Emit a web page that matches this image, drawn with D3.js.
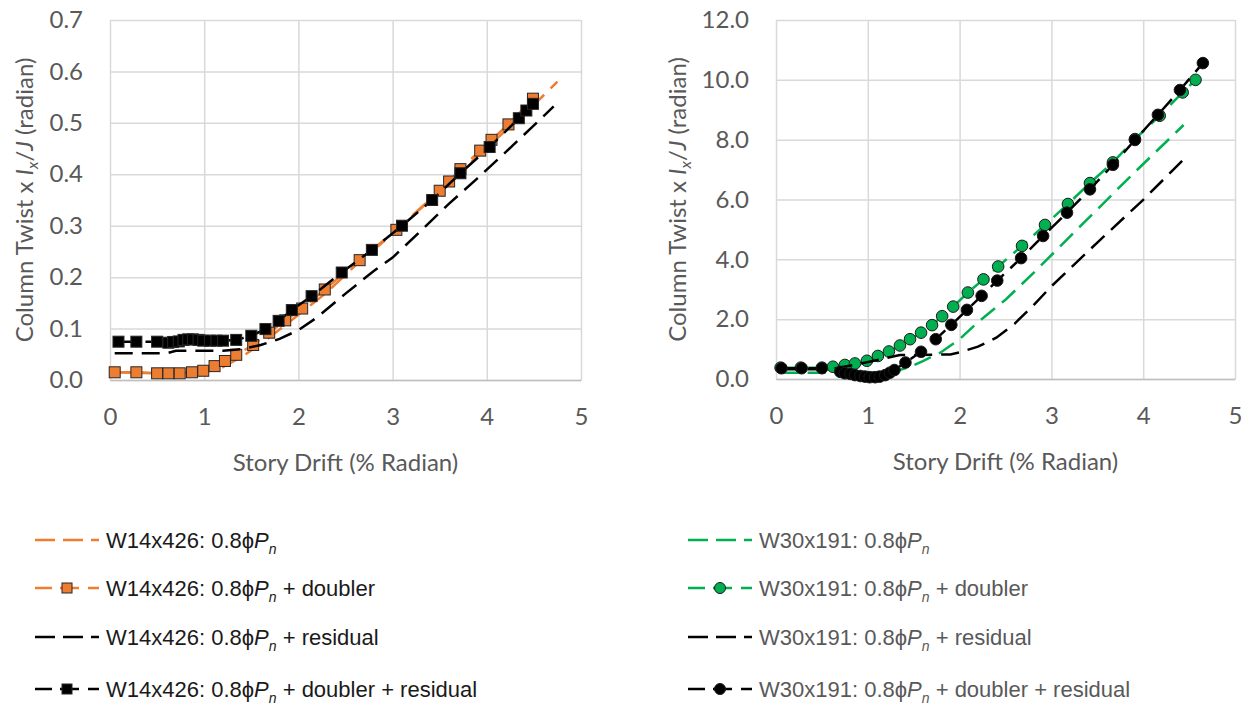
<!DOCTYPE html>
<html>
<head>
<meta charset="utf-8">
<script src="https://cdn.jsdelivr.net/npm/d3@7"></script>
<style>
  body { margin: 0; background: #fff; }
  .tick text { font-family: Lato, "Open Sans", sans-serif; font-size: 24px; fill: #595959; }
  .axis-title { font-family: Lato, "Open Sans", sans-serif; font-size: 24px; fill: #595959; }
  .legend-text { font-family: "Liberation Sans", Arial, sans-serif; font-size: 22px; }
</style>
</head>
<body>
<div class="container"></div>
<script>
// ---- left chart: W14x426 ----
var w14BaseX = [0.05, 0.5, 1.0, 1.2, 1.4, 1.6, 1.8, 2.0, 2.3, 2.6, 3.0, 3.4, 3.8, 4.2, 4.5, 4.75];
var w14BaseY = [0.015, 0.013, 0.015, 0.025, 0.045, 0.07, 0.098, 0.127, 0.17, 0.222, 0.284, 0.35, 0.418, 0.485, 0.535, 0.58];

var w14DoublerX = [0.05, 0.28, 0.50, 0.62, 0.74, 0.87, 0.99, 1.11, 1.22, 1.34, 1.52, 1.69, 1.86, 2.04, 2.28, 2.65, 3.04, 3.50, 3.60, 3.72, 3.93, 4.05, 4.23, 4.49];
var w14DoublerY = [0.015, 0.015, 0.013, 0.013, 0.013, 0.015, 0.018, 0.027, 0.037, 0.049, 0.068, 0.092, 0.116, 0.139, 0.176, 0.233, 0.292, 0.368, 0.386, 0.41, 0.446, 0.467, 0.497, 0.547];

var w14ResidualX = [0.05, 0.6, 0.7, 1.2, 1.4, 1.6, 1.8, 2.0, 2.2, 2.5, 2.8, 3.0, 3.3, 3.6, 3.9, 4.2, 4.5, 4.71];
var w14ResidualY = [0.052, 0.052, 0.057, 0.057, 0.06, 0.068, 0.08, 0.097, 0.122, 0.168, 0.212, 0.238, 0.29, 0.343, 0.392, 0.443, 0.495, 0.532];

var w14BothX = [0.09, 0.28, 0.50, 0.62, 0.67, 0.73, 0.78, 0.83, 0.88, 0.94, 0.99, 1.06, 1.13, 1.20, 1.34, 1.50, 1.65, 1.79, 1.93, 2.14, 2.46, 2.78, 3.10, 3.42, 3.72, 4.03, 4.34, 4.42, 4.49];
var w14BothY = [0.0745, 0.0745, 0.0745, 0.0725, 0.074, 0.075, 0.078, 0.079, 0.079, 0.078, 0.0765, 0.0765, 0.0765, 0.0765, 0.078, 0.086, 0.099, 0.115, 0.136, 0.163, 0.209, 0.253, 0.30, 0.35, 0.402, 0.453, 0.509, 0.524, 0.537];

// ---- right chart: W30x191 ----
var w30BaseX = [0.05, 1.0, 1.3, 1.46, 1.6, 1.79, 2.0, 2.2, 2.5, 2.8, 3.31, 3.86, 4.44];
var w30BaseY = [0.21, 0.21, 0.26, 0.41, 0.6, 0.88, 1.33, 1.9, 2.65, 3.53, 5.09, 6.77, 8.49];

var w30DoublerX = [0.05, 0.27, 0.5, 0.62, 0.75, 0.86, 0.99, 1.11, 1.23, 1.35, 1.46, 1.58, 1.70, 1.81, 1.93, 2.09, 2.26, 2.42, 2.68, 2.93, 3.18, 3.42, 3.67, 3.91, 4.18, 4.43, 4.57];
var w30DoublerY = [0.38, 0.38, 0.38, 0.41, 0.47, 0.52, 0.61, 0.77, 0.92, 1.12, 1.33, 1.55, 1.80, 2.1, 2.42, 2.89, 3.33, 3.76, 4.45, 5.15, 5.85, 6.55, 7.24, 8.02, 8.80, 9.58, 10.0];

var w30ResidualX = [0.05, 0.6, 0.9, 1.35, 1.9, 2.0, 2.2, 2.4, 2.6, 2.8, 3.0, 3.5, 4.0, 4.47];
var w30ResidualY = [0.33, 0.33, 0.5, 0.80, 0.82, 0.89, 1.08, 1.38, 1.85, 2.45, 3.1, 4.56, 5.99, 7.43];

var w30BothX = [0.06, 0.28, 0.50, 0.70, 0.75, 0.81, 0.86, 0.92, 0.97, 1.02, 1.08, 1.13, 1.19, 1.24, 1.29, 1.41, 1.58, 1.74, 1.91, 2.08, 2.24, 2.41, 2.67, 2.91, 3.17, 3.42, 3.67, 3.91, 4.16, 4.40, 4.65];
var w30BothY = [0.36, 0.36, 0.36, 0.24, 0.19, 0.17, 0.13, 0.10, 0.08, 0.06, 0.06, 0.08, 0.13, 0.21, 0.30, 0.55, 0.91, 1.33, 1.81, 2.31, 2.78, 3.29, 4.04, 4.78, 5.56, 6.34, 7.16, 7.99, 8.83, 9.66, 10.56];

var xTicks = [0, 1, 2, 3, 4, 5];
var leftYTicks = [0, 0.1, 0.2, 0.3, 0.4, 0.5, 0.6, 0.7];
var rightYTicks = [0, 2, 4, 6, 8, 10, 12];

var orange = "#ED7D31", green = "#00B050", black = "#000";
var dash = "18,9";

function zip(xs, ys) { return xs.map(function(v, i) { return {x: v, y: ys[i]}; }); }

var svg = d3.select(".container").append("svg")
  .attr("width", 1248).attr("height", 706);

function buildChart(opt) {
  var x = d3.scaleLinear().domain([0, 5]).range([opt.left, opt.right]);
  var y = d3.scaleLinear().domain([0, opt.ymax]).range([opt.bottom, opt.top]);
  var g = svg.append("g");

  // gridlines
  g.append("g")
    .attr("transform", "translate(0," + opt.bottom + ")")
    .call(d3.axisBottom(x).tickValues(xTicks).tickSize(-(opt.bottom - opt.top)).tickFormat(""))
    .call(function(s) { s.select(".domain").remove(); s.selectAll("line").attr("stroke", "#d9d9d9").attr("stroke-width", 1.5); });
  g.append("g")
    .attr("transform", "translate(" + opt.left + ",0)")
    .call(d3.axisLeft(y).tickValues(opt.yTicks).tickSize(-(opt.right - opt.left)).tickFormat(""))
    .call(function(s) { s.select(".domain").remove(); s.selectAll("line").attr("stroke", "#d9d9d9").attr("stroke-width", 1.5); });

  // axes with labels
  g.append("g")
    .attr("transform", "translate(0," + opt.bottom + ")")
    .call(d3.axisBottom(x).tickValues(xTicks).tickSize(0).tickPadding(28).tickFormat(d3.format("d")))
    .call(function(s) { s.select(".domain").attr("stroke", "#bfbfbf").attr("stroke-width", 1.5); });
  g.append("g")
    .attr("transform", "translate(" + opt.left + ",0)")
    .call(d3.axisLeft(y).tickValues(opt.yTicks).tickSize(0).tickPadding(27).tickFormat(d3.format(".1f")))
    .call(function(s) { s.select(".domain").remove(); });

  g.append("text")
    .attr("class", "axis-title")
    .attr("text-anchor", "middle")
    .attr("x", (opt.left + opt.right) / 2)
    .attr("y", opt.bottom + 91)
    .text("Story Drift (% Radian)");

  var yt = g.append("text")
    .attr("class", "axis-title")
    .attr("text-anchor", "middle")
    .attr("transform", "translate(" + opt.ytitleX + "," + (opt.top + opt.bottom) / 2 + ") rotate(-90)");
  yt.append("tspan").text("Column Twist x ");
  yt.append("tspan").style("font-style", "italic").text("I");
  yt.append("tspan").style("font-style", "italic").style("font-size", "16px").attr("dy", 5).text("x");
  yt.append("tspan").attr("dy", -5).text("/");
  yt.append("tspan").style("font-style", "italic").text("J");
  yt.append("tspan").text(" (radian)");

  var line = d3.line().x(function(d) { return x(d.x); }).y(function(d) { return y(d.y); });

  opt.series.forEach(function(s) {
    var data = zip(s.xs, s.ys);
    g.append("path")
      .datum(data)
      .attr("fill", "none")
      .attr("stroke", s.color)
      .attr("stroke-width", 2.5)
      .attr("stroke-dasharray", dash)
      .attr("d", line);
    if (s.marker === "square") {
      g.selectAll(null).data(data).enter().append("rect")
        .attr("x", function(d) { return x(d.x) - 5.5; })
        .attr("y", function(d) { return y(d.y) - 5.5; })
        .attr("width", 11).attr("height", 11)
        .attr("fill", s.color)
        .attr("stroke", "#262626").attr("stroke-width", 1);
    } else if (s.marker === "circle") {
      g.selectAll(null).data(data).enter().append("circle")
        .attr("cx", function(d) { return x(d.x); })
        .attr("cy", function(d) { return y(d.y); })
        .attr("r", 5.8)
        .attr("fill", s.color)
        .attr("stroke", "#1a1a1a").attr("stroke-width", 1);
    }
  });

  // legend
  opt.series.forEach(function(s, i) {
    var cy = opt.legendY[i];
    var lg = svg.append("g");
    lg.append("line")
      .attr("x1", opt.legendX).attr("x2", opt.legendX + 64)
      .attr("y1", cy).attr("y2", cy)
      .attr("stroke", s.color).attr("stroke-width", 2.5)
      .attr("stroke-dasharray", s.marker ? "17,8,19,9,11" : "20,8");
    if (s.marker === "square") {
      lg.append("rect").attr("x", opt.legendX + 27).attr("y", cy - 5).attr("width", 10).attr("height", 10)
        .attr("fill", s.color).attr("stroke", "#262626");
    } else if (s.marker === "circle") {
      lg.append("circle").attr("cx", opt.legendX + 32).attr("cy", cy).attr("r", 5.5)
        .attr("fill", s.color).attr("stroke", "#1a1a1a");
    }
    var t = lg.append("text")
      .attr("class", "legend-text")
      .attr("fill", opt.legendColor)
      .attr("x", opt.legendX + 71)
      .attr("y", cy)
      .attr("dy", "0.35em");
    t.append("tspan").text(opt.name + ": 0.8\u03D5");
    t.append("tspan").style("font-style", "italic").text("P");
    t.append("tspan").style("font-style", "italic").style("font-size", "14px").attr("dy", 6).text("n");
    t.append("tspan").attr("dy", -6).text(s.suffix);
  });
}

var legendY = [540, 588, 637, 689];

buildChart({
  left: 110, right: 581, top: 20, bottom: 380, ymax: 0.7,
  yTicks: leftYTicks, ytitleX: 33,
  name: "W14x426", legendX: 35, legendY: legendY, legendColor: "#1a1a1a",
  series: [
    {xs: w14BaseX, ys: w14BaseY, color: orange, marker: null, suffix: ""},
    {xs: w14DoublerX, ys: w14DoublerY, color: orange, marker: "square", suffix: " + doubler"},
    {xs: w14ResidualX, ys: w14ResidualY, color: black, marker: null, suffix: " + residual"},
    {xs: w14BothX, ys: w14BothY, color: black, marker: "square", suffix: " + doubler + residual"}
  ]
});

buildChart({
  left: 776, right: 1235, top: 20, bottom: 379, ymax: 12,
  yTicks: rightYTicks, ytitleX: 686,
  name: "W30x191", legendX: 688, legendY: legendY, legendColor: "#595959",
  series: [
    {xs: w30BaseX, ys: w30BaseY, color: green, marker: null, suffix: ""},
    {xs: w30DoublerX, ys: w30DoublerY, color: green, marker: "circle", suffix: " + doubler"},
    {xs: w30ResidualX, ys: w30ResidualY, color: black, marker: null, suffix: " + residual"},
    {xs: w30BothX, ys: w30BothY, color: black, marker: "circle", suffix: " + doubler + residual"}
  ]
});
</script>
</body>
</html>
